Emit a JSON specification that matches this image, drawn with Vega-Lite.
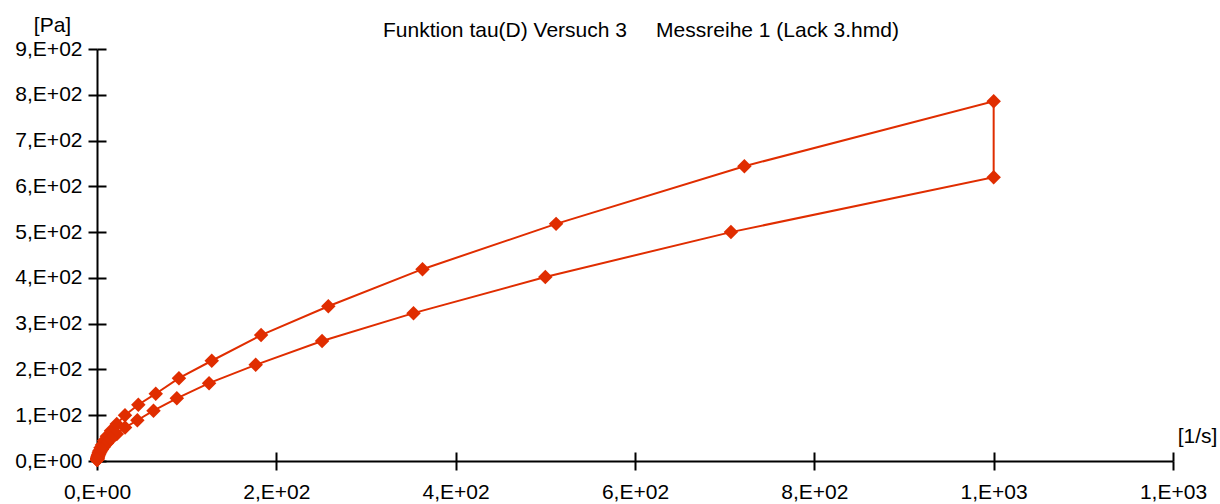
{
  "$schema": "https://vega.github.io/schema/vega-lite/v6.json",
  "width": 1076,
  "height": 412,
  "autosize": {"type": "none"},
  "padding": {"left": 97, "top": 49, "right": 47, "bottom": 43},
  "background": "white",
  "config": {
    "view": {"stroke": null},
    "font": "Liberation Sans",
    "axis": {"grid": false, "labelColor": "black", "titleColor": "black", "domainColor": "black", "tickColor": "black", "labelFont": "Liberation Sans", "titleFont": "Liberation Sans"}
  },
  "title": {
    "text": "Funktion tau(D) Versuch 3\u00a0\u00a0\u00a0\u00a0\u00a0Messreihe 1 (Lack 3.hmd)",
    "frame": "group",
    "anchor": "start",
    "dx": 286,
    "offset": -44,
    "baseline": "alphabetic",
    "fontSize": 21,
    "fontWeight": "normal",
    "font": "Liberation Sans",
    "color": "black"
  },
  "data": {
    "values": [
      {"order": 1, "D": 0.12, "tau": 3},
      {"order": 2, "D": 0.17, "tau": 4},
      {"order": 3, "D": 0.24, "tau": 5},
      {"order": 4, "D": 0.35, "tau": 6},
      {"order": 5, "D": 0.49, "tau": 8},
      {"order": 6, "D": 0.69, "tau": 10},
      {"order": 7, "D": 0.98, "tau": 12},
      {"order": 8, "D": 1.38, "tau": 15},
      {"order": 9, "D": 1.95, "tau": 19},
      {"order": 10, "D": 2.76, "tau": 23},
      {"order": 11, "D": 3.9, "tau": 29},
      {"order": 12, "D": 5.5, "tau": 35},
      {"order": 13, "D": 7.8, "tau": 44},
      {"order": 14, "D": 11, "tau": 54},
      {"order": 15, "D": 15.6, "tau": 66},
      {"order": 16, "D": 22, "tau": 81},
      {"order": 17, "D": 31.2, "tau": 100},
      {"order": 18, "D": 46.1, "tau": 123},
      {"order": 19, "D": 65.5, "tau": 147},
      {"order": 20, "D": 91.4, "tau": 181},
      {"order": 21, "D": 128, "tau": 219},
      {"order": 22, "D": 183, "tau": 275},
      {"order": 23, "D": 258, "tau": 338},
      {"order": 24, "D": 363, "tau": 419},
      {"order": 25, "D": 512, "tau": 518},
      {"order": 26, "D": 722, "tau": 644},
      {"order": 27, "D": 1000, "tau": 786},
      {"order": 28, "D": 1000, "tau": 620},
      {"order": 29, "D": 707, "tau": 500},
      {"order": 30, "D": 500, "tau": 402},
      {"order": 31, "D": 353, "tau": 323},
      {"order": 32, "D": 251, "tau": 262},
      {"order": 33, "D": 177, "tau": 210},
      {"order": 34, "D": 125, "tau": 170},
      {"order": 35, "D": 89, "tau": 137},
      {"order": 36, "D": 63, "tau": 110},
      {"order": 37, "D": 45, "tau": 89},
      {"order": 38, "D": 31.3, "tau": 73},
      {"order": 39, "D": 22.1, "tau": 59},
      {"order": 40, "D": 15.6, "tau": 48},
      {"order": 41, "D": 11, "tau": 39},
      {"order": 42, "D": 7.8, "tau": 31},
      {"order": 43, "D": 5.5, "tau": 25},
      {"order": 44, "D": 3.9, "tau": 20},
      {"order": 45, "D": 2.76, "tau": 16},
      {"order": 46, "D": 1.95, "tau": 13},
      {"order": 47, "D": 1.38, "tau": 10.5},
      {"order": 48, "D": 0.98, "tau": 8.5},
      {"order": 49, "D": 0.69, "tau": 6.8},
      {"order": 50, "D": 0.49, "tau": 5.5},
      {"order": 51, "D": 0.35, "tau": 4.4},
      {"order": 52, "D": 0.24, "tau": 3.5},
      {"order": 53, "D": 0.17, "tau": 2.8},
      {"order": 54, "D": 0.12, "tau": 2.2}
    ]
  },
  "layer": [
    {
      "mark": {"type": "line", "color": "#E02D00", "strokeWidth": 2, "clip": false},
      "encoding": {
        "x": {
          "field": "D", "type": "quantitative",
          "scale": {"domain": [0, 1200], "nice": false, "zero": true},
          "axis": {
            "orient": "bottom",
            "values": [0, 200, 400, 600, 800, 1000, 1200],
            "labelExpr": "datum.value == 0 ? '0,E+00' : datum.value < 1000 ? (datum.value / 100) + ',E+02' : '1,E+03'",
            "labelOverlap": false,
            "labelFlush": false,
            "labelFontSize": 21,
            "labelPadding": 11,
            "tickSize": 9,
            "tickWidth": 2,
            "domainWidth": 2,
            "title": "[1/s]",
            "titleAngle": 0,
            "titleX": 1100,
            "titleY": -19,
            "titleAlign": "center",
            "titleBaseline": "alphabetic",
            "titleFontSize": 21,
            "titleFontWeight": "normal"
          }
        },
        "y": {
          "field": "tau", "type": "quantitative",
          "scale": {"domain": [0, 900], "nice": false, "zero": true},
          "axis": {
            "orient": "left",
            "values": [0, 100, 200, 300, 400, 500, 600, 700, 800, 900],
            "labelExpr": "datum.value == 0 ? '0,E+00' : (datum.value / 100) + ',E+02'",
            "labelOverlap": false,
            "labelFlush": false,
            "labelFontSize": 21,
            "labelPadding": 6,
            "tickSize": 9,
            "tickWidth": 2,
            "domainWidth": 2,
            "title": "[Pa]",
            "titleAngle": 0,
            "titleX": -45,
            "titleY": -18,
            "titleAlign": "center",
            "titleBaseline": "alphabetic",
            "titleFontSize": 21,
            "titleFontWeight": "normal"
          }
        },
        "order": {"field": "order", "type": "quantitative"}
      }
    },
    {
      "mark": {"type": "point", "shape": "diamond", "filled": true, "size": 210, "color": "#E02D00", "opacity": 1, "clip": false},
      "encoding": {
        "x": {
          "field": "D", "type": "quantitative",
          "scale": {"domain": [0, 1200], "nice": false, "zero": true},
          "axis": {
            "orient": "bottom",
            "offset": -9,
            "values": [0, 200, 400, 600, 800, 1000, 1200],
            "domain": false,
            "labels": false,
            "tickSize": 9,
            "tickWidth": 2,
            "title": null
          }
        },
        "y": {
          "field": "tau", "type": "quantitative",
          "scale": {"domain": [0, 900], "nice": false, "zero": true},
          "axis": {
            "orient": "left",
            "offset": -9,
            "values": [0, 100, 200, 300, 400, 500, 600, 700, 800, 900],
            "domain": false,
            "labels": false,
            "tickSize": 9,
            "tickWidth": 2,
            "title": null
          }
        }
      }
    }
  ],
  "resolve": {"axis": {"x": "independent", "y": "independent"}}
}
